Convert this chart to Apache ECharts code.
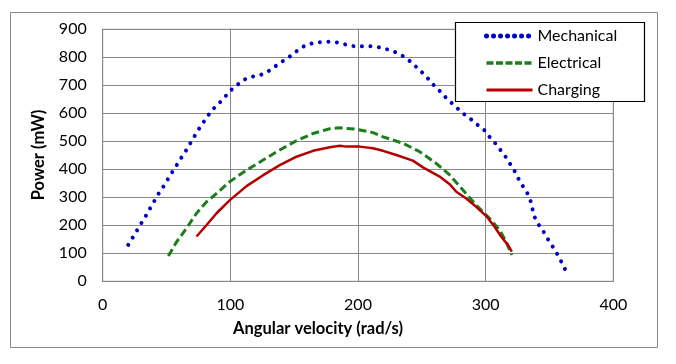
<!DOCTYPE html>
<html>
<head>
<meta charset="utf-8">
<script src="https://cdn.jsdelivr.net/npm/echarts@6/dist/echarts.min.js"></script>
<style>
  html, body { margin: 0; padding: 0; background: #fff; }
  #chart { width: 676px; height: 364px; }
</style>
</head>
<body>
<div id="chart"></div>
<script>
// values
const mechX = [20, 23.5, 26.8, 30.2, 33.6, 36.8, 40.1, 43.5, 47.2, 50.6, 54, 57.6, 61, 64.6, 68, 71.4, 74.8, 78.5, 82.2, 86, 91, 95.5, 99.8, 104.8, 110, 115.3, 121.8, 127.8, 133.3, 138.5, 144.2, 149.5, 154.4, 160.1, 166.7, 173.2, 179.7, 186, 192.5, 199, 205.5, 212, 218.5, 224.8, 231, 236.5, 241.8, 246.5, 250.9, 255.5, 260, 264.9, 269.2, 274.3, 278.8, 283.7, 289.2, 294.4, 299.4, 303, 307.5, 311.6, 315.6, 322.6, 325.9, 329, 332.6, 335.1, 336.7, 338.3, 341.6, 345.1, 348.5, 352.1, 355.5, 358.6, 361.7, 364.6];
const mechY = [130, 156, 181, 207, 232, 258, 284, 311, 336, 361, 387, 412, 437, 462, 488, 514, 540, 565, 590, 613, 635, 657, 680, 699, 718, 730, 734, 744, 761, 779, 795, 813, 831, 846, 852, 855, 856, 851, 843, 838, 840, 839, 834, 826, 815, 801, 782, 762, 743, 721, 697, 676, 654, 633, 614, 595, 576, 556, 538, 516, 493, 469, 445, 394, 365, 341, 315, 288, 258, 230, 202, 179, 152, 127, 102, 76, 48, 20];

const elecX = [51.4, 57.9, 65.7, 73.5, 81.4, 86.5, 99.6, 112.7, 125.7, 138.7, 151.8, 164.8, 177.9, 185.7, 198.7, 211.7, 219.6, 235.2, 248.3, 261.3, 271.8, 282.2, 292.6, 303, 310.9, 316.1, 320.5];
const elecY = [90, 141, 190, 243, 284, 303, 356, 397, 433, 469, 502, 528, 545, 548, 543, 531, 516, 493, 463, 421, 380, 326, 272, 225, 183, 141, 94];

const chargX = [73.5, 81.4, 89.2, 99.6, 112.7, 125.7, 138.7, 151.8, 164.8, 177.9, 185.7, 190.9, 201.3, 211.7, 219.6, 230, 243, 250.9, 264, 271.8, 277, 284.8, 292.6, 300.5, 307, 312.2, 317.4, 320.5];
const chargY = [160, 201, 243, 290, 340, 379, 415, 445, 466, 479, 484, 481, 481, 475, 466, 451, 431, 407, 374, 347, 320, 296, 266, 233, 195, 159, 130, 106];

const seriesNames = ["Mechanical", "Electrical", "Charging"];
const xTitle = "Angular velocity (rad/s)";
const yTitle = "Power (mW)";

function pairs(xs, ys) {
  return xs.map((x, i) => [x, ys[i]]);
}

const font = "Lato, 'Open Sans', sans-serif";
const chart = echarts.init(document.getElementById("chart"), null, { renderer: "canvas" });

chart.setOption({
  animation: false,
  backgroundColor: "#fff",
  textStyle: { fontFamily: font },
  grid: {
    left: 102.7,
    top: 29.3,
    right: 62.7,
    bottom: 82.7,
    show: true,
    borderColor: "#888",
    borderWidth: 1
  },
  xAxis: {
    type: "value",
    min: 0,
    max: 400,
    interval: 100,
    axisLine: { show: true, lineStyle: { color: "#888", width: 1 } },
    axisTick: { show: false },
    axisLabel: { color: "#000", fontSize: 16, margin: 16, fontFamily: font },
    splitLine: { show: true, lineStyle: { color: "#888", width: 1 } }
  },
  yAxis: {
    type: "value",
    min: 0,
    max: 900,
    interval: 100,
    axisLine: { show: true, lineStyle: { color: "#888", width: 1 } },
    axisTick: { show: false },
    axisLabel: { color: "#000", fontSize: 16, margin: 16, fontFamily: font },
    splitLine: { show: true, lineStyle: { color: "#888", width: 1 } }
  },
  legend: {
    orient: "vertical",
    left: 479,
    top: 23,
    itemWidth: 46,
    itemHeight: 14,
    itemGap: 11,
    itemStyle: { opacity: 0 },
    textStyle: { color: "#000", fontSize: 16, fontFamily: font },
    data: [
      { name: seriesNames[0], lineStyle: { width: 5, type: [0.01, 7], cap: "round" } },
      { name: seriesNames[1], lineStyle: { width: 3.5, type: [7, 2.5] } },
      { name: seriesNames[2], lineStyle: { width: 3 } }
    ],
    z: 10
  },
  graphic: [
    {
      type: "rect",
      shape: { x: 10.5, y: 12.5, width: 647, height: 335 },
      style: { fill: "none", stroke: "#888", lineWidth: 1 },
      silent: true,
      z: -10
    },
    {
      type: "rect",
      shape: { x: 455.5, y: 22.5, width: 189, height: 79 },
      style: { fill: "#fff", stroke: "#000", lineWidth: 1.2 },
      silent: true,
      z: 5
    },
    {
      type: "text",
      x: 318,
      y: 329,
      style: {
        text: xTitle,
        fill: "#000",
        font: "bold 16.5px " + font,
        textAlign: "center",
        textVerticalAlign: "middle"
      }
    },
    {
      type: "text",
      x: 38.5,
      y: 155,
      rotation: Math.PI / 2,
      style: {
        text: yTitle,
        fill: "#000",
        font: "bold 16.5px " + font,
        textAlign: "center",
        textVerticalAlign: "middle"
      }
    }
  ],
  series: [
    {
      name: seriesNames[0],
      type: "line",
      symbol: "none",
      data: pairs(mechX, mechY),
      itemStyle: { color: "#0000cc" },
      lineStyle: { color: "#0000cc", width: 4, type: [0.01, 8.5], cap: "round" },
      z: 3
    },
    {
      name: seriesNames[1],
      type: "line",
      symbol: "none",
      data: pairs(elecX, elecY),
      itemStyle: { color: "#1b7d1b" },
      lineStyle: { color: "#1b7d1b", width: 3, type: [8, 4] },
      z: 3
    },
    {
      name: seriesNames[2],
      type: "line",
      symbol: "none",
      data: pairs(chargX, chargY),
      itemStyle: { color: "#b40000" },
      lineStyle: { color: "#b40000", width: 2.5 },
      z: 3
    }
  ]
});
</script>
</body>
</html>
